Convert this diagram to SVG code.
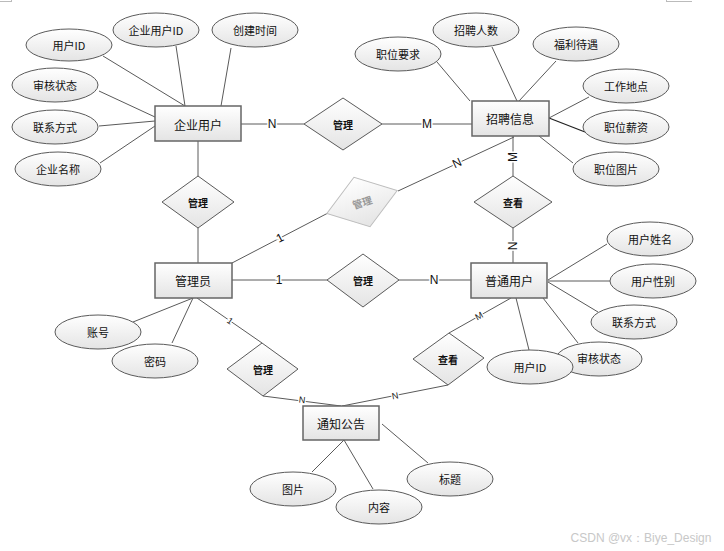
<svg xmlns="http://www.w3.org/2000/svg" width="724" height="551" viewBox="0 0 724 551">
<defs>
<linearGradient id="g" x1="0" y1="0" x2="0" y2="1">
<stop offset="0" stop-color="#ffffff"/>
<stop offset="1" stop-color="#e4e4e4"/>
</linearGradient>
<style>
.ent{fill:url(#g);stroke:#666;stroke-width:1.5}
.att{fill:url(#g);stroke:#5a5a5a;stroke-width:1}
.rel{fill:url(#g);stroke:#5a5a5a;stroke-width:1}
.faded{fill:url(#g);stroke:#bdbdbd;stroke-width:1}
.conn line{stroke:#5a5a5a;stroke-width:1}
text{font-family:"Noto Sans CJK SC","Liberation Sans",sans-serif;fill:#111;text-anchor:middle;dominant-baseline:central}
.et{font-size:12px}
.at{font-size:11px}
.rt{font-size:10px;font-weight:bold}
.lb{font-family:"Liberation Sans",sans-serif;font-size:12px;stroke:#fff;stroke-width:3;paint-order:stroke}
.ls{font-family:"Liberation Sans",sans-serif;font-size:9px;stroke:#fff;stroke-width:2.5;paint-order:stroke}
</style>
</defs>
<rect width="724" height="551" fill="#fff"/>
<g id="marks" stroke="#bbb" stroke-width="1">
<line x1="0" y1="1.5" x2="11.5" y2="1.5"/><line x1="11.5" y1="0" x2="11.5" y2="2"/>
<line x1="666.5" y1="1.5" x2="692" y2="1.5"/><line x1="666.5" y1="0" x2="666.5" y2="2"/>
</g>
<g id="connectors" class="conn">
<line x1="103" y1="56" x2="185" y2="106"/>
<line x1="176" y1="46" x2="185" y2="106"/>
<line x1="231" y1="48" x2="221" y2="106"/>
<line x1="99" y1="91" x2="155" y2="117"/>
<line x1="99" y1="126" x2="155" y2="121"/>
<line x1="100" y1="163" x2="155" y2="126"/>
<line x1="198" y1="141" x2="198" y2="176"/>
<line x1="198" y1="228" x2="198" y2="263"/>
<line x1="241" y1="124" x2="304" y2="124"/>
<line x1="382" y1="124" x2="472" y2="124"/>
<line x1="437" y1="62" x2="470" y2="101"/>
<line x1="492" y1="47" x2="517" y2="101"/>
<line x1="556" y1="61" x2="519" y2="101"/>
<line x1="589" y1="97" x2="549" y2="118"/>
<line x1="549" y1="118" x2="585" y2="132" style="stroke:#222;stroke-width:1.3"/>
<line x1="573" y1="163" x2="539" y2="136"/>
<line x1="513" y1="136" x2="513" y2="176"/>
<line x1="513" y1="228" x2="513" y2="263"/>
<line x1="514" y1="137" x2="398" y2="191"/>
<line x1="328" y1="213" x2="232" y2="263"/>
<line x1="232" y1="280" x2="327" y2="280"/>
<line x1="399" y1="280" x2="471" y2="280"/>
<line x1="607" y1="244" x2="548" y2="280"/>
<line x1="548" y1="281" x2="610" y2="281"/>
<line x1="598" y1="312" x2="548" y2="282"/>
<line x1="578" y1="343" x2="543" y2="298"/>
<line x1="529" y1="350" x2="516" y2="298"/>
<line x1="511" y1="298" x2="449" y2="333"/>
<line x1="448" y1="385" x2="342" y2="406"/>
<line x1="133" y1="322" x2="193" y2="298"/>
<line x1="172" y1="343" x2="193" y2="298"/>
<line x1="197" y1="298" x2="262" y2="343"/>
<line x1="263" y1="396" x2="341" y2="406"/>
<line x1="428" y1="463" x2="382" y2="424"/>
<line x1="373" y1="489" x2="344" y2="440"/>
<line x1="312" y1="472" x2="344" y2="440"/>
</g>
<g id="conn-labels">
<text class="lb" x="272" y="124">N</text>
<text class="lb" x="427" y="124">M</text>
<text class="lb" transform="translate(513 157) rotate(-90)">M</text>
<text class="lb" transform="translate(513 246) rotate(-90)">N</text>
<text class="lb" transform="translate(457 163) rotate(-25)">N</text>
<text class="lb" transform="translate(280 238) rotate(-27)">1</text>
<text class="lb" x="279" y="280">1</text>
<text class="lb" x="434" y="280">N</text>
<text class="ls" transform="translate(230 321) rotate(35)">1</text>
<text class="ls" transform="translate(302 400) rotate(7)">N</text>
<text class="ls" transform="translate(395 396) rotate(-11)">N</text>
<text class="ls" transform="translate(479 316) rotate(-29)">M</text>
</g>
<g id="attr-qy-userid"><ellipse class="att" cx="69" cy="45" rx="43" ry="16"/><text class="at" x="69" y="45">用户ID</text></g>
<g id="attr-qy-qyid"><ellipse class="att" cx="156" cy="30" rx="43" ry="17"/><text class="at" x="156" y="30">企业用户ID</text></g>
<g id="attr-qy-time"><ellipse class="att" cx="255" cy="30" rx="43" ry="17"/><text class="at" x="255" y="30">创建时间</text></g>
<g id="attr-qy-status"><ellipse class="att" cx="55" cy="85" rx="43" ry="17"/><text class="at" x="55" y="85">审核状态</text></g>
<g id="attr-qy-contact"><ellipse class="att" cx="55" cy="127" rx="43" ry="17"/><text class="at" x="55" y="127">联系方式</text></g>
<g id="attr-qy-name"><ellipse class="att" cx="58" cy="169" rx="43" ry="17"/><text class="at" x="58" y="169">企业名称</text></g>
<g id="attr-zp-req"><ellipse class="att" cx="398" cy="54" rx="43" ry="17"/><text class="at" x="398" y="54">职位要求</text></g>
<g id="attr-zp-num"><ellipse class="att" cx="476" cy="30" rx="43" ry="17"/><text class="at" x="476" y="30">招聘人数</text></g>
<g id="attr-zp-welfare"><ellipse class="att" cx="576" cy="44" rx="43" ry="17"/><text class="at" x="576" y="44">福利待遇</text></g>
<g id="attr-zp-place"><ellipse class="att" cx="626" cy="86" rx="43" ry="17"/><text class="at" x="626" y="86">工作地点</text></g>
<g id="attr-zp-salary"><ellipse class="att" cx="626" cy="127" rx="43" ry="17"/><text class="at" x="626" y="127">职位薪资</text></g>
<g id="attr-zp-pic"><ellipse class="att" cx="616" cy="169" rx="43" ry="17"/><text class="at" x="616" y="169">职位图片</text></g>
<g id="attr-pt-name"><ellipse class="att" cx="650" cy="239" rx="43" ry="17"/><text class="at" x="650" y="239">用户姓名</text></g>
<g id="attr-pt-sex"><ellipse class="att" cx="653" cy="281" rx="43" ry="17"/><text class="at" x="653" y="281">用户性别</text></g>
<g id="attr-pt-contact"><ellipse class="att" cx="634" cy="322" rx="43" ry="17"/><text class="at" x="634" y="322">联系方式</text></g>
<g id="attr-pt-status"><ellipse class="att" cx="599" cy="359" rx="43" ry="17"/><text class="at" x="599" y="358">审核状态</text></g>
<g id="attr-pt-id"><ellipse class="att" cx="530" cy="367" rx="43" ry="17"/><text class="at" x="530" y="367">用户ID</text></g>
<g id="attr-admin-acc"><ellipse class="att" cx="98" cy="332" rx="43" ry="17"/><text class="at" x="98" y="332">账号</text></g>
<g id="attr-admin-pwd"><ellipse class="att" cx="155" cy="361" rx="43" ry="17"/><text class="at" x="155" y="361">密码</text></g>
<g id="attr-tz-title"><ellipse class="att" cx="450" cy="479" rx="43" ry="17"/><text class="at" x="450" y="479">标题</text></g>
<g id="attr-tz-content"><ellipse class="att" cx="379" cy="507" rx="43" ry="17"/><text class="at" x="379" y="507">内容</text></g>
<g id="attr-tz-pic"><ellipse class="att" cx="293" cy="489" rx="43" ry="17"/><text class="at" x="293" y="489">图片</text></g>
<g id="rel-top"><polygon class="rel" points="304,124 343,98 382,124 343,150"/><text class="rt" x="343" y="124">管理</text></g>
<g id="rel-left"><polygon class="rel" points="162,202 198,176 234,202 198,228"/><text class="rt" x="198" y="202">管理</text></g>
<g id="rel-faded" transform="rotate(-18 362 202)"><polygon class="faded" points="325,202 362,176 399,202 362,228"/><text class="rt" x="362" y="202" style="fill:#999">管理</text></g>
<g id="rel-view1"><polygon class="rel" points="474,202 513,176 552,202 513,228"/><text class="rt" x="513" y="202">查看</text></g>
<g id="rel-mid"><polygon class="rel" points="327,280 363,254 399,280 363,307"/><text class="rt" x="363" y="280">管理</text></g>
<g id="rel-bl"><polygon class="rel" points="227,369 262,343 298,369 263,396"/><text class="rt" x="263" y="369">管理</text></g>
<g id="rel-view2"><polygon class="rel" points="413,359 449,333 484,358 448,385"/><text class="rt" x="448" y="359">查看</text></g>
<g id="ent-qiye"><rect class="ent" x="155" y="106" width="86" height="35"/><text class="et" x="198" y="124">企业用户</text></g>
<g id="ent-zhaopin"><rect class="ent" x="472" y="101" width="77" height="35"/><text class="et" x="510" y="118">招聘信息</text></g>
<g id="ent-admin"><rect class="ent" x="155" y="263" width="77" height="35"/><text class="et" x="193" y="280">管理员</text></g>
<g id="ent-putong"><rect class="ent" x="471" y="263" width="76" height="35"/><text class="et" x="509" y="280">普通用户</text></g>
<g id="ent-tongzhi"><rect class="ent" x="303" y="406" width="76" height="34"/><text class="et" x="341" y="423">通知公告</text></g>
<text x="641" y="538" style="font-family:'Liberation Sans',sans-serif;font-size:12px;fill:#c8c8c8">CSDN @vx：Biye_Design</text>
</svg>
